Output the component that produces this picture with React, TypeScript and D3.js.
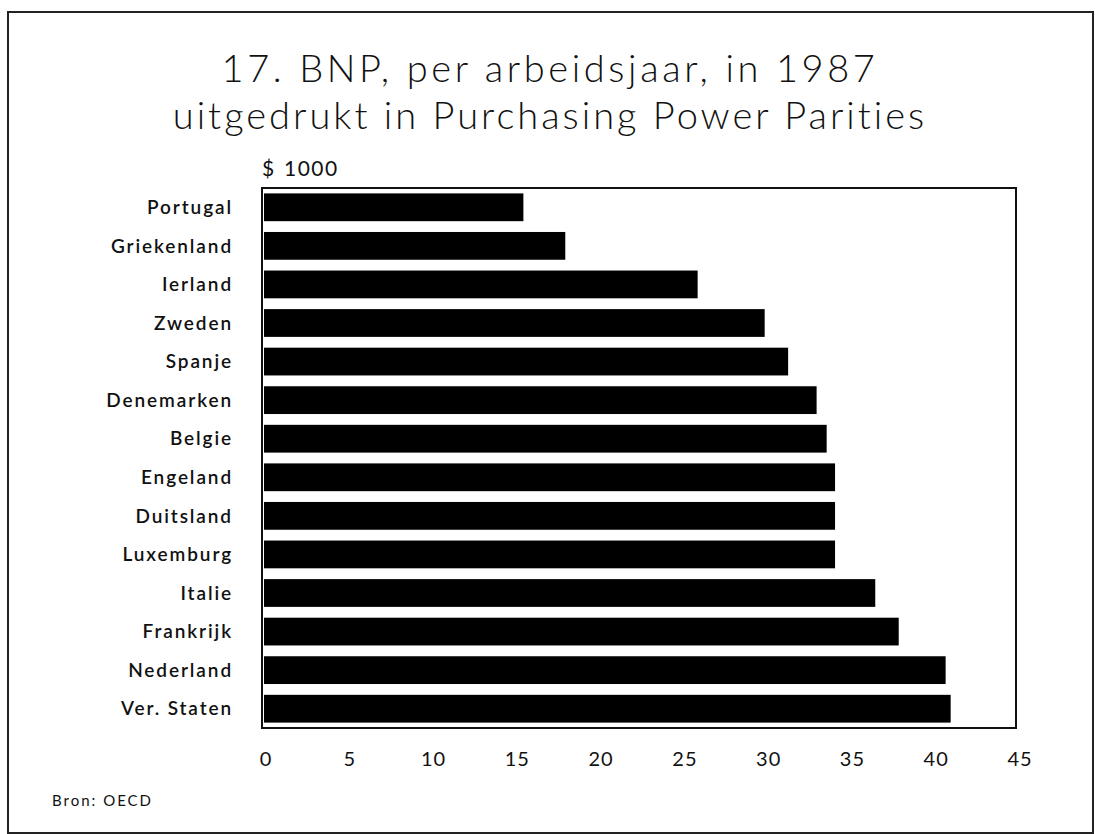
import React from 'react';
import * as d3 from 'd3';

const countries = [
  'Portugal',
  'Griekenland',
  'Ierland',
  'Zweden',
  'Spanje',
  'Denemarken',
  'Belgie',
  'Engeland',
  'Duitsland',
  'Luxemburg',
  'Italie',
  'Frankrijk',
  'Nederland',
  'Ver. Staten',
];
const values = [15.6, 18.1, 26.0, 30.0, 31.4, 33.1, 33.7, 34.2, 34.2, 34.2, 36.6, 38.0, 40.8, 41.1];
const ticks = [0, 5, 10, 15, 20, 25, 30, 35, 40, 45];
const titleLines = ['17. BNP, per arbeidsjaar, in 1987', 'uitgedrukt in Purchasing Power Parities'];

const W = 1095;
const H = 834;
const font = 'Lato, "DejaVu Sans", sans-serif';

export default function App() {
  const margin = {top: 188, right: 79, bottom: 106, left: 262};
  const width = W - margin.left - margin.right;
  const height = H - margin.top - margin.bottom;

  const x = d3.scaleLinear().domain([0, 45]).range([0, width]);
  const y = d3.scaleBand().domain(countries).range([0, height]).paddingInner(0.28).paddingOuter(0.14);

  return (
    <svg width={W} height={H} style={{position: 'absolute', left: 0, top: 0, background: '#fff'}}>
      {/* page border */}
      <rect x={8} y={12} width={W - 10} height={H - 13} fill="none" stroke="#222" strokeWidth={2} />

      {titleLines.map((t, i) => (
        <text
          key={t}
          x={550}
          y={82 + i * 47}
          textAnchor="middle"
          fontFamily={font}
          fontSize={38}
          fontWeight={300}
          letterSpacing={i === 0 ? 3.6 : 3}
          fill="#111">
          {t}
        </text>
      ))}

      <text y={176} fontFamily={font} fontSize={21} letterSpacing={1.5} fill="#111">
        <tspan x={margin.left}>$</tspan>
        <tspan x={margin.left + 22}>1000</tspan>
      </text>

      <g transform={`translate(${margin.left},${margin.top})`}>
        <rect x={0} y={0} width={width} height={height} fill="none" stroke="#111" strokeWidth={2} />
        {countries.map((c, i) => (
          <g key={c}>
            <rect x={2} y={y(c)} width={x(values[i]) - 2} height={y.bandwidth()} fill="#000" />
            <text
              x={-29}
              y={(y(c) ?? 0) + y.bandwidth() / 2}
              dy="0.35em"
              textAnchor="end"
              fontFamily={font}
              fontSize={19}
              fontWeight={600}
              letterSpacing={1.9}
              fill="#111">
              {c}
            </text>
          </g>
        ))}
        {ticks.map((t) => (
          <text
            key={t}
            x={x(t) + 4}
            y={height + 38}
            textAnchor="middle"
            fontFamily={font}
            fontSize={20}
            letterSpacing={1}
            fill="#111">
            {t}
          </text>
        ))}
      </g>

      <text x={52} y={806} fontFamily={font} fontSize={15} letterSpacing={2} fill="#111">
        Bron: OECD
      </text>
    </svg>
  );
}
